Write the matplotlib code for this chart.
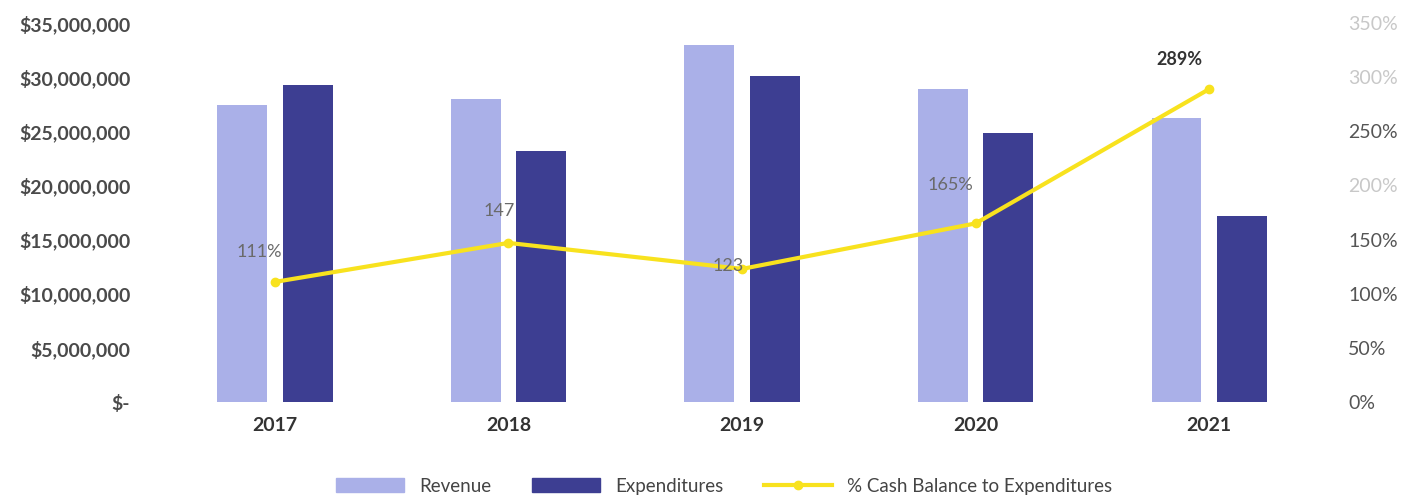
import numpy as np
import matplotlib.pyplot as plt
from matplotlib.ticker import FuncFormatter, MultipleLocator
from matplotlib.lines import Line2D
from matplotlib.patches import Patch

years = ["2017", "2018", "2019", "2020", "2021"]
revenue = [27_400_000, 28_000_000, 33_000_000, 28_900_000, 26_200_000]
expenditures = [29_300_000, 23_200_000, 30_100_000, 24_800_000, 17_200_000]
cash_pct = [111, 147, 123, 165, 289]
pct_labels = ["111%", "147", "123", "165%", "289%"]
pct_ticks = [0, 50, 100, 150, 200, 250, 300, 350]

REV_COLOR = "#aab0e8"
EXP_COLOR = "#3d3e92"
LINE_COLOR = "#f8e21e"

plt.rcParams["font.family"] = ["Lato", "DejaVu Sans"]

fig = plt.figure(figsize=(14.2, 4.99), dpi=100)
ax = fig.add_axes([0.1113, 0.194, 0.8225, 0.760])
ax2 = ax.twinx()

x = np.arange(len(years))
w = 0.214
ax.bar(x - 0.14, revenue, w, color=REV_COLOR, zorder=2)
ax.bar(x + 0.14, expenditures, w, color=EXP_COLOR, zorder=2)

ax.set_xlim(-0.5, len(years) - 0.5)
ax.set_ylim(0, 35_000_000)
ax.yaxis.set_major_locator(MultipleLocator(5_000_000))
ax.yaxis.set_major_formatter(FuncFormatter(lambda v, p: "$-" if v == 0 else f"${v:,.0f}"))
ax.set_xticks(x)
ax.set_xticklabels(years)

ax2.plot(x, cash_pct, color=LINE_COLOR, lw=3, marker="o", ms=6, zorder=5)
ax2.set_ylim(0, 350)
ax2.set_yticks(pct_ticks)
ax2.set_yticklabels([f"{t}%" for t in pct_ticks])

# label positions relative to each point (in points)
offsets = [(-11.5, 21.5), (-7, 23), (-10, 2), (-18, 28), (-21.5, 21)]
for i, (val, lab) in enumerate(zip(cash_pct, pct_labels)):
    last = i == len(cash_pct) - 1
    ax2.annotate(lab, (x[i], val), xytext=offsets[i], textcoords="offset points",
                 ha="center", va="center", fontsize=13,
                 fontweight="bold" if last else "normal",
                 color="#333333" if last else "#6a6a6a", zorder=6)

for a in (ax, ax2):
    for s in a.spines.values():
        s.set_visible(False)
    a.tick_params(length=0)

ax.tick_params(axis="y", labelsize=14, labelcolor="#4a4a4a", pad=20)
ax.tick_params(axis="x", labelsize=14, labelcolor="#333333", pad=11)
for t in ax.get_yticklabels() + ax.get_xticklabels():
    t.set_fontweight("bold")

ax2.tick_params(axis="y", labelsize=14, pad=16)
# ticks bottom to top: 0% ... 350%
right_colors = ["#555555", "#555555", "#555555", "#555555", "#c8c8c8", "#555555", "#c8c8c8", "#c8c8c8"]
for t, c in zip(ax2.get_yticklabels(), right_colors):
    t.set_color(c)

handles = [
    Patch(color=REV_COLOR, label="Revenue"),
    Patch(color=EXP_COLOR, label="Expenditures"),
    Line2D([0], [0], color=LINE_COLOR, lw=3, marker="o", ms=6, label="% Cash Balance to Expenditures"),
]
fig.legend(handles=handles, loc="center", bbox_to_anchor=(0.51, 0.026), ncol=3,
           frameon=False, fontsize=13.5, handlelength=3.6, handleheight=0.8,
           columnspacing=2.2, labelcolor="#444444")

fig.savefig("out.png", dpi=100, facecolor="white")
